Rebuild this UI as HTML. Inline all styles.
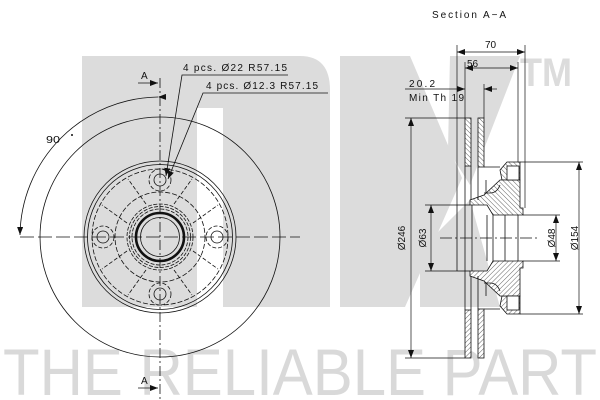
<!DOCTYPE html>
<html><head><meta charset="utf-8"><style>
html,body{margin:0;padding:0;background:#fff}
svg{display:block}
text{font-family:"Liberation Sans",sans-serif;fill:#111}
</style></head><body>
<svg width="600" height="400" viewBox="0 0 600 400" xmlns="http://www.w3.org/2000/svg">
<defs>
<pattern id="h" patternUnits="userSpaceOnUse" width="3.4" height="3.4" patternTransform="rotate(-45)">
<rect width="3.4" height="3.4" fill="#fff"/><line x1="0" y1="0" x2="0" y2="3.4" stroke="#222" stroke-width="0.7"/>
</pattern>
<marker id="ar" markerWidth="8" markerHeight="6" refX="8" refY="3" orient="auto" markerUnits="userSpaceOnUse"><path d="M0,0 L8,3 L0,6 z" fill="#111"/></marker>
<marker id="al" markerWidth="8" markerHeight="6" refX="0" refY="3" orient="auto" markerUnits="userSpaceOnUse"><path d="M8,0 L0,3 L8,6 z" fill="#111"/></marker>
</defs>
<g fill="#dcdcdc">
<path d="M82,56 H300 Q330,56 330,90 V307 H223 V108 H197 V307 H82 Z"/>
<polygon points="340,56 410,56 462,178 405,307 340,307"/>
<polygon points="450,56 520,56 470,185 448,150"/>
<polygon points="420,250 470,200 500,307 420,307"/>
<text x="520" y="86" font-size="40" font-weight="bold" style="fill:#dcdcdc" textLength="52" lengthAdjust="spacingAndGlyphs">TM</text>
<text x="3" y="395" font-size="66" style="fill:#d9d9d9" textLength="594" lengthAdjust="spacingAndGlyphs">THE RELIABLE PART</text>
</g>
<g fill="none" stroke="#111" stroke-width="0.8">
<circle cx="160" cy="237" r="120"/>
<circle cx="160" cy="237" r="76"/>
<circle cx="160" cy="237" r="72.5"/>
<circle cx="160" cy="237" r="68" stroke-dasharray="5,2"/>
<circle cx="160" cy="237" r="45" stroke-dasharray="5,2"/>
<circle cx="160" cy="237" r="33" stroke-dasharray="4,1.5"/>
<circle cx="160" cy="237" r="30.5" stroke-dasharray="4,1.5"/>
<circle cx="160" cy="237" r="28" stroke-dasharray="4,1.5"/>
<circle cx="160" cy="237" r="24" stroke-width="2.6"/>
<circle cx="160" cy="237" r="19.5"/>
<g transform="translate(160,237)" stroke-dasharray="4,2">
<g id="sp"><line x1="33" y1="14" x2="58" y2="32"/><line x1="14" y1="33" x2="32" y2="58"/></g>
<use href="#sp" transform="rotate(90)"/><use href="#sp" transform="rotate(180)"/><use href="#sp" transform="rotate(270)"/>
</g>
<g>
<circle cx="160" cy="180" r="6"/><circle cx="160" cy="180" r="11" stroke-dasharray="4,2"/>
<circle cx="160" cy="294" r="6"/><circle cx="160" cy="294" r="11" stroke-dasharray="4,2"/>
<circle cx="103" cy="237" r="6"/><circle cx="103" cy="237" r="11" stroke-dasharray="4,2"/>
<circle cx="217" cy="237" r="6"/><circle cx="217" cy="237" r="11" stroke-dasharray="4,2"/>
</g>
<line x1="160" y1="78" x2="160" y2="400" stroke-dasharray="10,3,2,3"/>
<line x1="20" y1="237" x2="300" y2="237" stroke-dasharray="14,4"/>
<path d="M158,97 A140,140 0 0 0 20,235" marker-start="url(#ar)" marker-end="url(#ar)"/>
<line x1="138" y1="83" x2="158" y2="83" marker-end="url(#ar)"/>
<line x1="138" y1="388" x2="158" y2="388" marker-end="url(#ar)"/>
<polyline points="288,75 182,75 166,176" marker-end="url(#ar)"/>
<polyline points="328,93 203,93 168,179" marker-end="url(#ar)"/>
</g>
<circle cx="72" cy="135" r="1" fill="#111"/>
<g font-size="10">
<text x="46" y="143" textLength="14" lengthAdjust="spacingAndGlyphs">90</text>
<text x="141" y="79">A</text>
<text x="141" y="384">A</text>
<text x="183" y="71" textLength="104" lengthAdjust="spacing">4 pcs. Ø22 R57.15</text>
<text x="206" y="89" textLength="112" lengthAdjust="spacing">4 pcs. Ø12.3 R57.15</text>
<text x="432" y="18" textLength="74" lengthAdjust="spacing">Section A−A</text>
<text x="485" y="48">70</text>
<text x="467" y="67">56</text>
<text x="409" y="87" textLength="26" lengthAdjust="spacing">20.2</text>
<text x="409" y="101" textLength="55" lengthAdjust="spacing">Min Th 19</text>
<text transform="translate(405,238) rotate(-90)" text-anchor="middle">Ø246</text>
<text transform="translate(426,238) rotate(-90)" text-anchor="middle">Ø63</text>
<text transform="translate(555,238) rotate(-90)" text-anchor="middle">Ø48</text>
<text transform="translate(578,238) rotate(-90)" text-anchor="middle">Ø154</text>
</g>
<g stroke="#111" stroke-width="0.8">
<g id="half">
<rect x="465" y="118" width="6" height="48" fill="url(#h)"/>
<rect x="478" y="118" width="6" height="49" fill="url(#h)"/>
<polygon points="500,170 507,162 520,162 520,180 502,180" fill="url(#h)"/>
<polygon points="470,200 484,195 500,180 520,180 520,208 523,208 523,215 493,215 487,205 470,205" fill="url(#h)"/>
<path d="M484,167 H500 M486,180 V193 M484,193 H490 Q497,193 500,185" fill="none"/>
<rect x="507" y="166" width="12" height="14" fill="#fff"/>
<line x1="471" y1="166" x2="471" y2="200" fill="none"/>
<line x1="465" y1="166" x2="465" y2="205" fill="none"/>
<line x1="478" y1="167" x2="478" y2="200" fill="none"/>
<line x1="457" y1="205" x2="470" y2="205"/>
</g>
<use href="#half" transform="translate(0,476) scale(1,-1)"/>
<line x1="457" y1="205" x2="457" y2="271" fill="none"/>
<line x1="465" y1="205" x2="465" y2="271" fill="none"/>
<line x1="472" y1="205" x2="472" y2="271" fill="none"/>
<line x1="487" y1="215" x2="487" y2="261" fill="none"/>
<line x1="493" y1="215" x2="493" y2="261" fill="none"/>
<line x1="505" y1="215" x2="505" y2="261" fill="none"/>
<line x1="518" y1="215" x2="518" y2="261" fill="none"/>
<line x1="440" y1="238" x2="540" y2="238" stroke-dasharray="12,3,2,3" fill="none"/>
</g>
<g fill="none" stroke="#111" stroke-width="0.7">
<line x1="457" y1="45" x2="457" y2="205"/>
<line x1="525" y1="45" x2="525" y2="208"/>
<line x1="457" y1="52" x2="525" y2="52" marker-start="url(#al)" marker-end="url(#ar)"/>
<line x1="465" y1="62" x2="465" y2="118"/>
<line x1="518" y1="62" x2="518" y2="162"/>
<line x1="465" y1="68" x2="518" y2="68" marker-start="url(#al)" marker-end="url(#ar)"/>
<line x1="405" y1="89" x2="465" y2="89" marker-end="url(#ar)"/>
<line x1="484" y1="89" x2="497" y2="89" marker-start="url(#al)"/>
<line x1="484" y1="84" x2="484" y2="118"/>
<line x1="405" y1="118" x2="465" y2="118"/>
<line x1="405" y1="358" x2="465" y2="358"/>
<line x1="411" y1="118" x2="411" y2="358" marker-start="url(#al)" marker-end="url(#ar)"/>
<line x1="425" y1="205" x2="457" y2="205"/>
<line x1="425" y1="271" x2="457" y2="271"/>
<line x1="431" y1="205" x2="431" y2="271" marker-start="url(#al)" marker-end="url(#ar)"/>
<line x1="523" y1="215" x2="560" y2="215"/>
<line x1="523" y1="261" x2="560" y2="261"/>
<line x1="556" y1="215" x2="556" y2="261" marker-start="url(#al)" marker-end="url(#ar)"/>
<line x1="520" y1="162" x2="583" y2="162"/>
<line x1="520" y1="314" x2="583" y2="314"/>
<line x1="579" y1="162" x2="579" y2="314" marker-start="url(#al)" marker-end="url(#ar)"/>
</g>
</svg>
</body></html>
